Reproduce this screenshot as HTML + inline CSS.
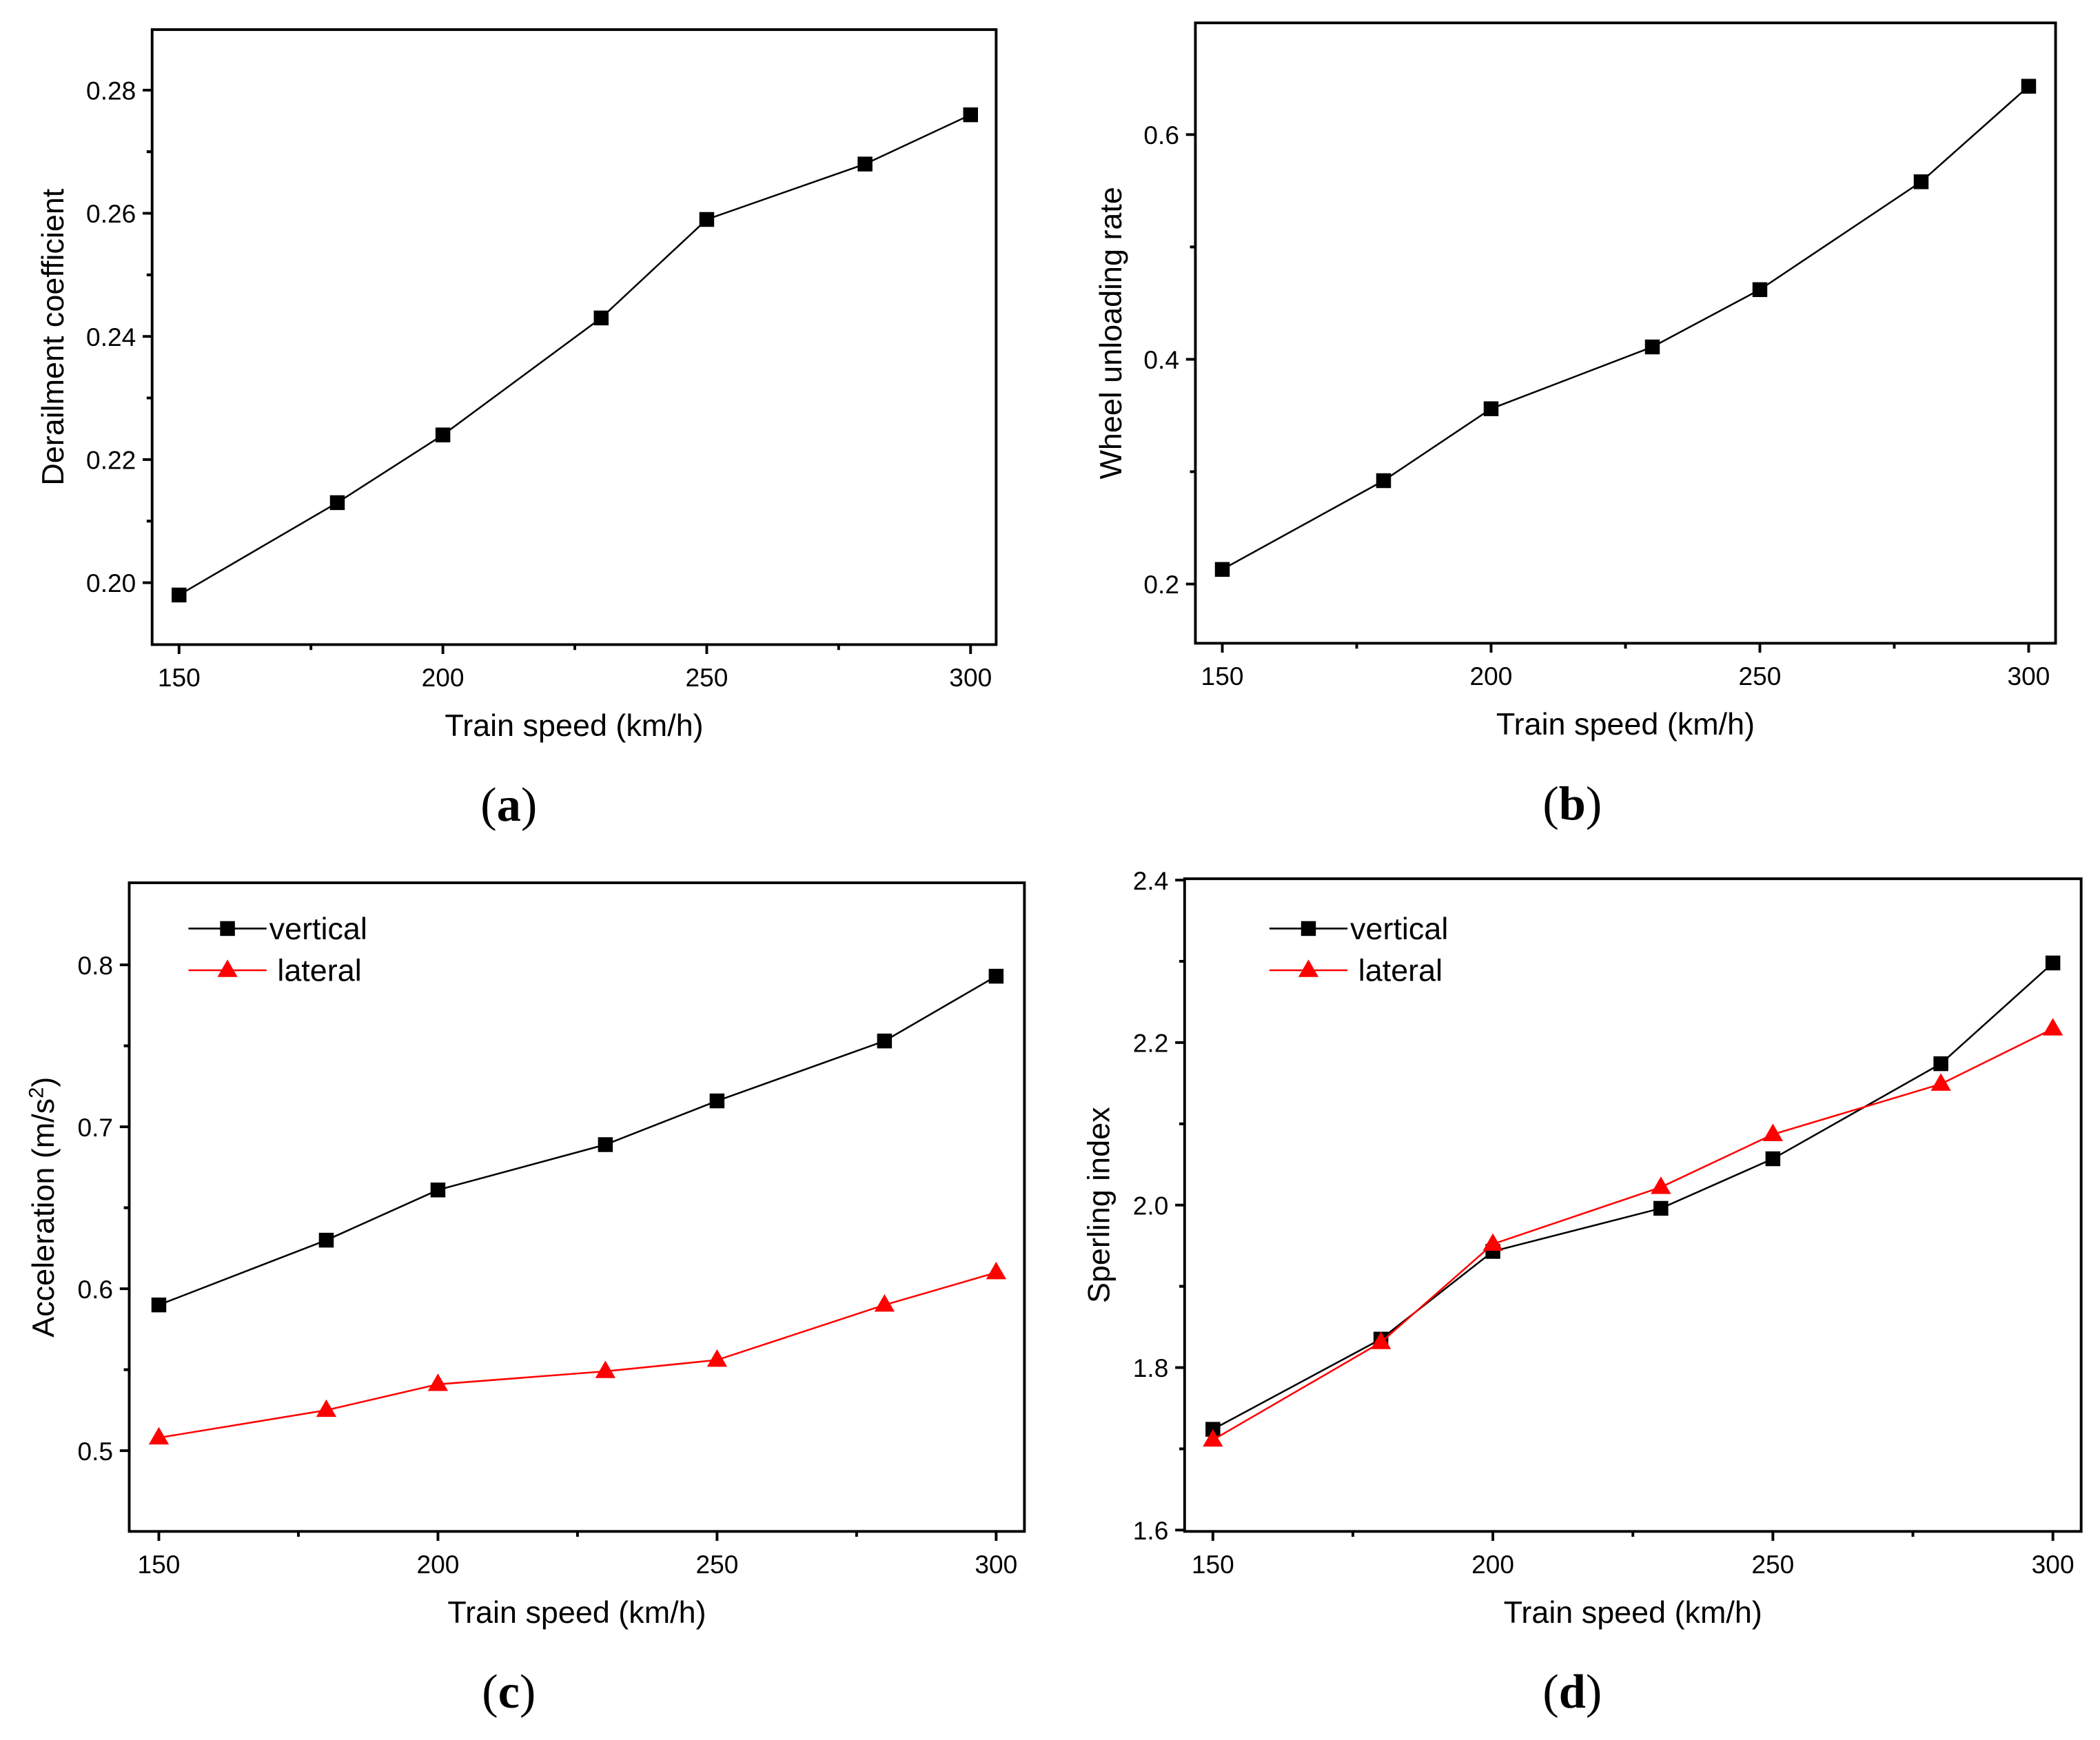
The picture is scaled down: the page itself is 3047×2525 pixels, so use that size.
<!DOCTYPE html>
<html><head><meta charset="utf-8"><style>
html,body{margin:0;padding:0;background:#fff;}
svg{display:block;}
text{font-family:"Liberation Sans",sans-serif;}
text.serif{font-family:"Liberation Serif",serif;}
</style></head>
<body>
<svg id="chart" xmlns="http://www.w3.org/2000/svg" width="3047" height="2525" viewBox="0 0 1560 1293" preserveAspectRatio="none"></svg>
<script>
const speeds = [150, 180, 200, 230, 250, 280, 300];
const derailment = [0.198, 0.213, 0.224, 0.243, 0.259, 0.268, 0.276];
const unloading = [0.213, 0.292, 0.356, 0.411, 0.462, 0.558, 0.643];
const accVertical = [0.590, 0.630, 0.661, 0.689, 0.716, 0.753, 0.793];
const accLateral = [0.508, 0.525, 0.541, 0.549, 0.556, 0.590, 0.610];
const sperVertical = [1.724, 1.835, 1.943, 1.996, 2.057, 2.174, 2.298];
const sperLateral = [1.711, 1.831, 1.952, 2.022, 2.087, 2.149, 2.217];
const xTicks = [150, 200, 250, 300];
const xMinor = [175, 225, 275];
const aTicks = [0.20, 0.22, 0.24, 0.26, 0.28];
const bTicks = [0.2, 0.4, 0.6];
const cTicks = [0.5, 0.6, 0.7, 0.8];
const dTicks = [1.6, 1.8, 2.0, 2.2, 2.4];

const svg = document.getElementById('chart');
const NS = 'http://www.w3.org/2000/svg';
function mk(tag, attrs, parent){const e=document.createElementNS(NS,tag);for(const k in attrs)e.setAttribute(k,attrs[k]);(parent||svg).appendChild(e);return e;}

function panel(cfg){
  const g = mk('g',{});
  
  
  const X = v => cfg.x0px + (v-150)/(150)*(cfg.x1px-cfg.x0px);
  const Y = v => cfg.yApx + (v-cfg.yA)/(cfg.yB-cfg.yA)*(cfg.yBpx-cfg.yApx);
  const frame = mk('rect',{x:cfg.L,y:cfg.T,width:cfg.R-cfg.L,height:cfg.B-cfg.T,fill:'none',stroke:'#000','stroke-width':2},g);
  
  
  xTicks.forEach(v=>{
    mk('line',{x1:X(v),x2:X(v),y1:cfg.B,y2:cfg.B+7,stroke:'#000','stroke-width':2},g);
    const t = mk('text',{x:X(v),y:cfg.B+31,'font-size':19,'text-anchor':'middle'},g);
    t.textContent = v;
    
    
  });
  xMinor.forEach(v=>mk('line',{x1:X(v),x2:X(v),y1:cfg.B,y2:cfg.B+4,stroke:'#000','stroke-width':2},g));
  const step = cfg.ticks[1]-cfg.ticks[0];
  cfg.ticks.forEach((v,i)=>{
    mk('line',{x1:cfg.L-7,x2:cfg.L,y1:Y(v),y2:Y(v),stroke:'#000','stroke-width':2},g);
    const t = mk('text',{x:cfg.L-12,y:Y(v)+7,'font-size':19,'text-anchor':'end'},g);
    t.textContent = v.toFixed(cfg.dec);
    
    
    [v-step/2, v+step/2].forEach(m=>{const yy=Y(m); if(yy>cfg.T+1&&yy<cfg.B-1) mk('line',{x1:cfg.L-4,x2:cfg.L,y1:yy,y2:yy,stroke:'#000','stroke-width':2},g);});
  });
  const xt = mk('text',{x:(cfg.L+cfg.R)/2,y:cfg.B+68,'font-size':23,'text-anchor':'middle'},g);
  xt.textContent = 'Train speed (km/h)';
  
  
  const yt = mk('text',{x:0,y:0,'font-size':23,'text-anchor':'middle',transform:`translate(${cfg.ytx},${(cfg.T+cfg.B)/2}) rotate(-90)`},g);
  yt.innerHTML = cfg.ytitle;
  
  
  const lab = mk('text',{x:cfg.labX,y:cfg.B+131,'font-size':36,'text-anchor':'middle','class':'serif'},g);
  lab.innerHTML = '(<tspan font-weight="bold">'+cfg.label+'</tspan>)';
  
  
  cfg.series.forEach(s=>{
    const pts = speeds.map((sp,i)=>X(sp)+','+Y(s.vals[i])).join(' ');
    const pl = mk('polyline',{points:pts,fill:'none',stroke:s.color,'stroke-width':1.3},g);
    
    
    speeds.forEach((sp,i)=>{
      const cx=X(sp), cy=Y(s.vals[i]);
      let m;
      if(s.shape==='sq') m = mk('rect',{x:cx-5.5,y:cy-5.5,width:11,height:11,fill:s.color},g);
      else m = mk('polygon',{points:`${cx},${cy-8} ${cx-7.5},${cy+5} ${cx+7.5},${cy+5}`,fill:s.color},g);
      
      
    });
  });
  if(cfg.legend){
    cfg.series.forEach((s,i)=>{
    const ly = cfg.legend.y + i*31;
    const lx = cfg.legend.x;
    const lg = mk('g',{},g);
    
    
    mk('line',{x1:lx,x2:lx+58,y1:ly,y2:ly,stroke:s.color,'stroke-width':1.3},lg);
    const cx=lx+29;
    if(s.shape==='sq') mk('rect',{x:cx-5.5,y:ly-5.5,width:11,height:11,fill:s.color},lg);
    else mk('polygon',{points:`${cx},${ly-8} ${cx-7.5},${ly+5} ${cx+7.5},${ly+5}`,fill:s.color},lg);
    const t=mk('text',{x:lx+(s.shape==='sq'?60:66),y:ly+8,'font-size':23},lg);
    t.textContent=s.id;
    });
  }
}

panel({name:'panel-a-derailment',L:113,R:740,T:22,B:479,x0px:133,x1px:721,yA:0.20,yApx:433,yB:0.28,yBpx:67,ticks:aTicks,dec:2,ytx:47,ytitle:'Derailment coefficient',label:'a',labX:378,
  series:[{id:'derailment',vals:derailment,color:'#000',shape:'sq'}]});
panel({name:'panel-b-unloading',L:888,R:1527,T:17,B:478,x0px:908,x1px:1507,yA:0.2,yApx:434,yB:0.6,yBpx:100,ticks:bTicks,dec:1,ytx:833,ytitle:'Wheel unloading rate',label:'b',labX:1168,
  series:[{id:'unloading',vals:unloading,color:'#000',shape:'sq'}]});
panel({name:'panel-c-acceleration',L:96,R:761,T:656,B:1138,x0px:118,x1px:740,yA:0.5,yApx:1078,yB:0.8,yBpx:717,ticks:cTicks,dec:1,ytx:40,ytitle:'Acceleration (m/s<tspan dy="-8" font-size="15">2</tspan><tspan dy="8">)</tspan>',label:'c',labX:378,
  series:[{id:'vertical',vals:accVertical,color:'#000',shape:'sq'},{id:'lateral',vals:accLateral,color:'#f00',shape:'tri'}],
  legend:{x:140,y:690}});
panel({name:'panel-d-sperling',L:880,R:1546,T:653,B:1138,x0px:901,x1px:1525,yA:1.6,yApx:1137,yB:2.4,yBpx:654,ticks:dTicks,dec:1,ytx:824,ytitle:'Sperling index',label:'d',labX:1168,
  series:[{id:'vertical',vals:sperVertical,color:'#000',shape:'sq'},{id:'lateral',vals:sperLateral,color:'#f00',shape:'tri'}],
  legend:{x:943,y:690}});
</script>
</body></html>
